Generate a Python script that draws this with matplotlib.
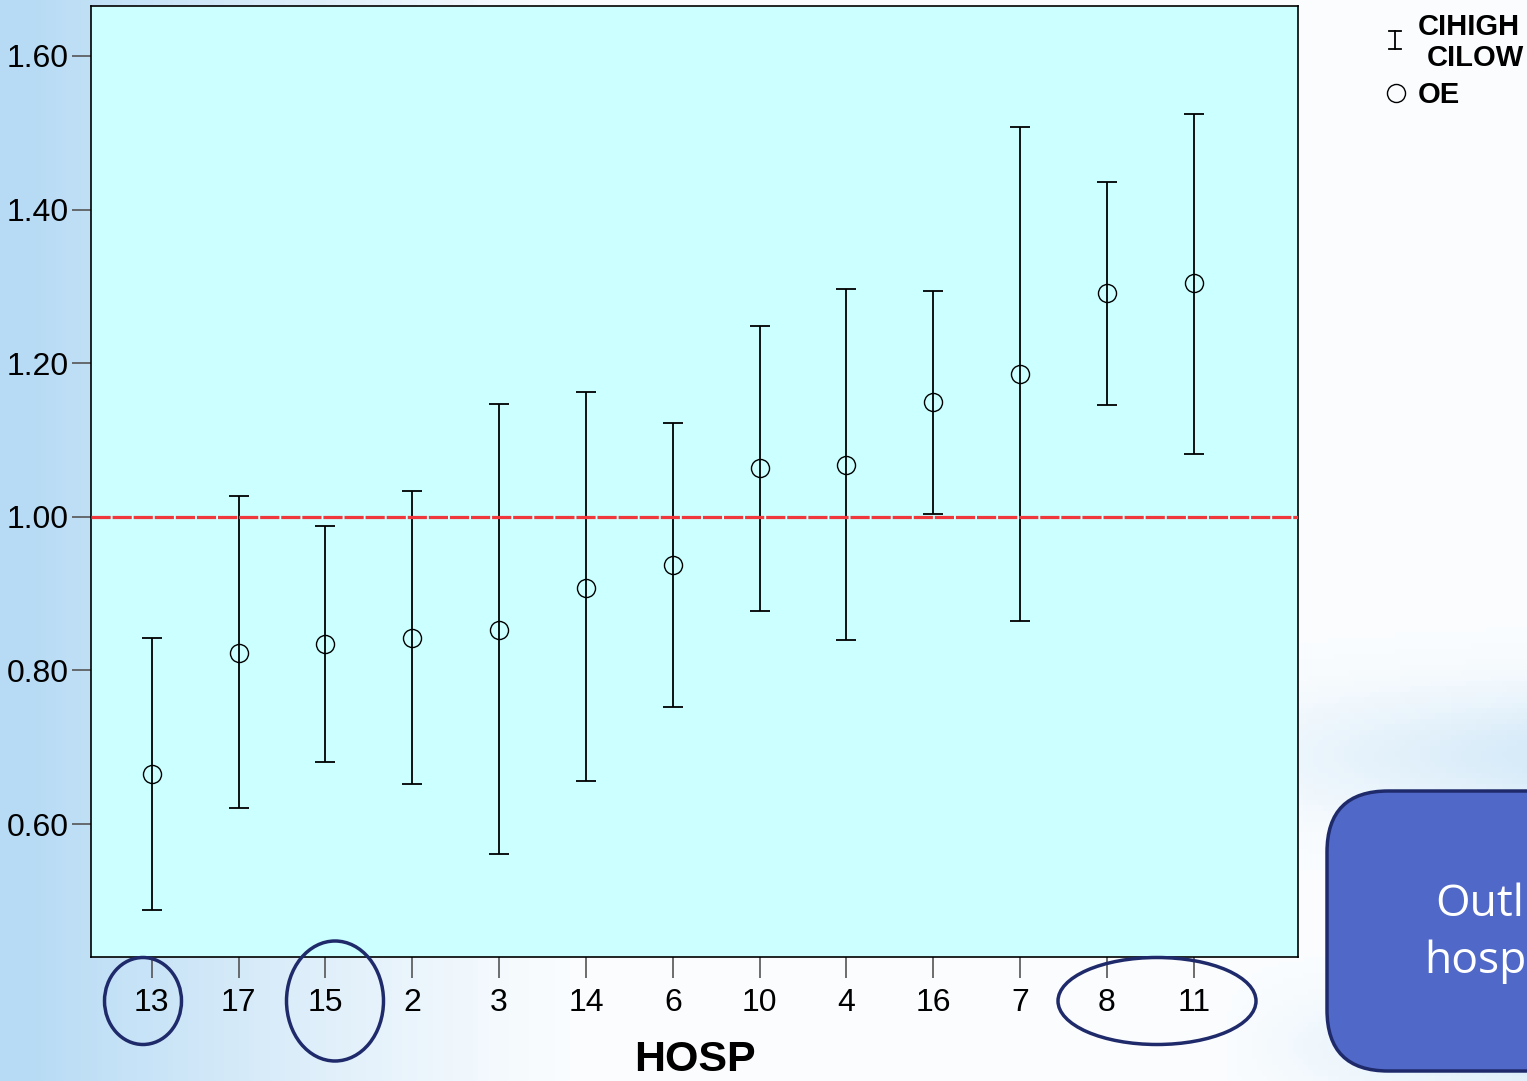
import numpy as np
import matplotlib
matplotlib.use("Agg")
import matplotlib.pyplot as plt
from matplotlib.patches import Ellipse, FancyBboxPatch
from matplotlib.lines import Line2D

hosp = ["13", "17", "15", "2", "3", "14", "6", "10", "4", "16", "7", "8", "11"]
oe = [0.665, 0.823, 0.834, 0.842, 0.853, 0.908, 0.937, 1.064, 1.068, 1.150, 1.186, 1.291, 1.304]
ci_high = [0.842, 1.027, 0.988, 1.033, 1.147, 1.162, 1.122, 1.249, 1.297, 1.294, 1.508, 1.436, 1.524]
ci_low = [0.488, 0.621, 0.681, 0.652, 0.561, 0.656, 0.752, 0.878, 0.840, 1.004, 0.864, 1.145, 1.082]
yticks = [0.60, 0.80, 1.00, 1.20, 1.40, 1.60]

plt.rcParams['font.family'] = ['Liberation Sans', 'DejaVu Sans']

W, H = 1527, 1081
fig = plt.figure(figsize=(W / 100, H / 100), dpi=100)

# slide-like gradient background
bg = fig.add_axes([0, 0, 1, 1], zorder=-10)
xs = np.linspace(0, 1, 300)
ys = np.linspace(0, 1, 200)
X, Y = np.meshgrid(xs, ys)
left = np.clip(1 - X / 0.38, 0, 1) ** 1.2
band = np.exp(-((Y - 0.70) / 0.06) ** 2) * np.clip((X - 0.75) / 0.25, 0, 1) * 0.5
band2 = np.exp(-((Y - 0.97) / 0.05) ** 2) * np.clip((X - 0.8) / 0.2, 0, 1) * 0.5
t = np.clip(left + band + band2 + 0.06, 0, 1)
c0 = np.array([1.0, 1.0, 1.0])
c1 = np.array([0.72, 0.86, 0.96])
img = c0[None, None, :] * (1 - t[..., None]) + c1[None, None, :] * t[..., None]
bg.imshow(img, aspect='auto', extent=[0, 1, 0, 1], origin='upper')
bg.set_xlim(0, 1)
bg.set_ylim(0, 1)
bg.axis('off')

ax = fig.add_axes([91 / W, 1 - 957 / H, (1298 - 91) / W, (957 - 6) / H])
ax.set_facecolor('#CCFFFF')
x = np.arange(len(hosp))

ax.axhline(1.0, color='#F0383C', lw=2.3, ls=(0, (6.0, 0.6)), zorder=3)

yerr = [np.array(oe) - np.array(ci_low), np.array(ci_high) - np.array(oe)]
ax.errorbar(x, oe, yerr=yerr, fmt='none', ecolor='black', elinewidth=1.3,
            capsize=7, capthick=1.3, zorder=2)
ax.plot(x, oe, 'o', mfc='none', mec='black', ms=13, mew=1.0, zorder=4)

ax.set_xlim(-0.70, len(hosp) - 1 + 1.20)
ax.set_ylim(0.427, 1.665)
ax.set_xticks(x)
ax.set_xticklabels(hosp, fontsize=23)
ax.set_yticks(yticks)
ax.set_yticklabels([f"{v:.2f}" for v in yticks], fontsize=23)
ax.tick_params(axis='x', length=15, width=1.2, color='#555555', pad=7)
ax.tick_params(axis='y', length=14, width=1.2, color='#555555', pad=2)
for s in ax.spines.values():
    s.set_linewidth(1.2)
ax.set_xlabel('HOSP', fontsize=31, fontweight='bold', labelpad=16)

# legend (custom)
fig.text(1418 / W, 1 - 27 / H, 'CIHIGH', fontsize=21, fontweight='bold', va='center', ha='left')
fig.text(1427 / W, 1 - 58 / H, 'CILOW', fontsize=21, fontweight='bold', va='center', ha='left')
fig.text(1418 / W, 1 - 95 / H, 'OE', fontsize=21, fontweight='bold', va='center', ha='left')
fig.add_artist(Line2D([1395 / W, 1395 / W], [1 - 31 / H, 1 - 49 / H], color='black', lw=1.3))
fig.add_artist(Line2D([1389 / W, 1401 / W], [1 - 31 / H, 1 - 31 / H], color='black', lw=1.3))
fig.add_artist(Line2D([1389 / W, 1401 / W], [1 - 49 / H, 1 - 49 / H], color='black', lw=1.3))
fig.add_artist(Line2D([1396 / W], [1 - 93 / H], marker='o', mfc='none', mec='black', ms=13, mew=1.0))

# annotation ellipses
navy = '#1F2A6B'
for cx, cy, w, h in [(143, 1001, 77, 87), (335, 1001, 97, 120), (1157, 1001, 198, 87)]:
    e = Ellipse((cx / W, 1 - cy / H), w / W, h / H, transform=fig.transFigure,
                fill=False, ec=navy, lw=2.5, zorder=20)
    fig.add_artist(e)

# callout box
box = FancyBboxPatch((1327 / W, 1 - 1071 / H), 260 / W, 280 / H,
                     boxstyle="round,pad=0,rounding_size=0.04",
                     transform=fig.transFigure, fc='#5068C8', ec=navy, lw=2.5,
                     mutation_aspect=W / H, zorder=20)
fig.add_artist(box)
fig.text(1435 / W, 1 - 905 / H, 'Outlier', fontsize=32, color='white', va='center', ha='left',
         family=['Open Sans', 'DejaVu Sans'], zorder=21)
fig.text(1424 / W, 1 - 962 / H, 'hospitals', fontsize=32, color='white', va='center', ha='left',
         family=['Open Sans', 'DejaVu Sans'], zorder=21)

fig.savefig('out.png', dpi=100)
